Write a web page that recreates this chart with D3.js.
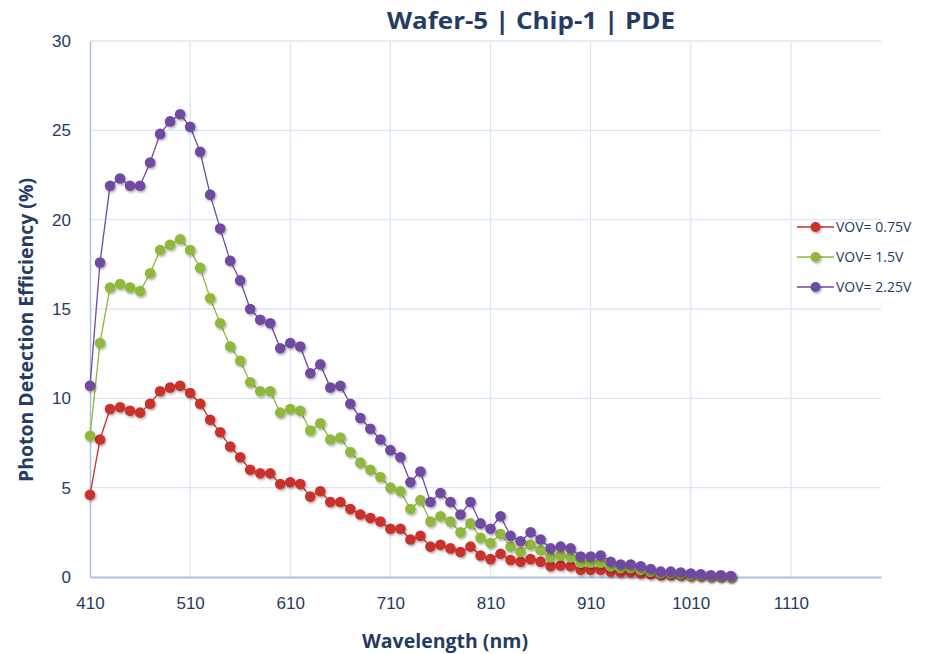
<!DOCTYPE html>
<html>
<head>
<meta charset="utf-8">
<script src="https://cdn.jsdelivr.net/npm/d3@7"></script>
<style>
  body { margin: 0; background: #fff; }
  svg { display: block; font-family: "Open Sans", "DejaVu Sans", sans-serif; }
</style>
</head>
<body>
<div class="chart"></div>
<script>
const wavelengths = d3.range(410, 1051, 10);

const vov075 = [4.6, 7.7, 9.4, 9.5, 9.3, 9.2, 9.7, 10.4, 10.6, 10.7, 10.3, 9.7, 8.8, 8.1, 7.3, 6.7, 6.0, 5.8, 5.8, 5.2,
  5.3, 5.2, 4.5, 4.8, 4.2, 4.2, 3.8, 3.5, 3.3, 3.1, 2.7, 2.7, 2.1, 2.3, 1.7, 1.8, 1.6, 1.4, 1.7, 1.2,
  1.0, 1.3, 0.95, 0.85, 1.0, 0.85, 0.6, 0.65, 0.6, 0.4, 0.4, 0.4, 0.3, 0.25, 0.25, 0.2, 0.15, 0.1, 0.1, 0.08,
  0.05, 0.05, 0.03, 0.02, 0.01];

const vov15 = [7.9, 13.1, 16.2, 16.4, 16.2, 16.0, 17.0, 18.3, 18.6, 18.9, 18.3, 17.3, 15.6, 14.2, 12.9, 12.1, 10.9, 10.4, 10.4, 9.2,
  9.4, 9.3, 8.2, 8.6, 7.7, 7.8, 7.0, 6.4, 6.0, 5.6, 5.0, 4.8, 3.8, 4.3, 3.1, 3.4, 3.1, 2.5, 3.0, 2.2,
  1.9, 2.4, 1.7, 1.4, 1.8, 1.5, 1.1, 1.2, 1.1, 0.8, 0.8, 0.8, 0.6, 0.5, 0.5, 0.4, 0.3, 0.2, 0.2, 0.15,
  0.1, 0.1, 0.05, 0.05, 0.02];

const vov225 = [10.7, 17.6, 21.9, 22.3, 21.9, 21.9, 23.2, 24.8, 25.5, 25.9, 25.2, 23.8, 21.4, 19.5, 17.7, 16.6, 15.0, 14.4, 14.2, 12.8,
  13.1, 12.9, 11.4, 11.9, 10.6, 10.7, 9.7, 8.9, 8.3, 7.7, 7.1, 6.7, 5.3, 5.9, 4.2, 4.7, 4.2, 3.5, 4.2, 3.0,
  2.7, 3.4, 2.3, 2.0, 2.5, 2.1, 1.6, 1.7, 1.6, 1.15, 1.15, 1.2, 0.85, 0.7, 0.7, 0.6, 0.45, 0.3, 0.3, 0.25,
  0.2, 0.15, 0.1, 0.1, 0.05];

const seriesNames = ["VOV= 0.75V", "VOV= 1.5V", "VOV= 2.25V"];
const seriesColors = ["#c9302c", "#8fb83e", "#7049a2"];
const xTicks = [410, 510, 610, 710, 810, 910, 1010, 1110];
const yTicks = [0, 5, 10, 15, 20, 25, 30];

const w = 935, h = 654;
const margin = { left: 90, right: 54, top: 41, bottom: 77 };
const textColor = "#243b63";

const series = [vov075, vov15, vov225].map((vals, i) => ({
  name: seriesNames[i],
  color: seriesColors[i],
  values: vals.map((v, j) => ({ x: wavelengths[j], y: v }))
}));

const x = d3.scaleLinear().domain([410, 1200]).range([margin.left, w - margin.right]);
const y = d3.scaleLinear().domain([0, 30]).range([h - margin.bottom, margin.top]);

const svg = d3.select(".chart").append("svg")
  .attr("width", w).attr("height", h).attr("viewBox", [0, 0, w, h]);

const defs = svg.append("defs");
const shadow = defs.append("filter").attr("id", "shadow")
  .attr("x", "-50%").attr("y", "-50%").attr("width", "200%").attr("height", "200%");
shadow.append("feDropShadow").attr("dx", 1.2).attr("dy", 1.5).attr("stdDeviation", 1.2)
  .attr("flood-color", "#000").attr("flood-opacity", 0.35);

// gridlines
svg.append("g").selectAll("line").data(yTicks.slice(1)).join("line")
  .attr("x1", margin.left).attr("x2", w - margin.right)
  .attr("y1", d => y(d)).attr("y2", d => y(d))
  .attr("stroke", "#dbe6f5").attr("stroke-width", 1.3);
svg.append("g").selectAll("line").data(xTicks.slice(1)).join("line")
  .attr("x1", d => x(d)).attr("x2", d => x(d))
  .attr("y1", margin.top).attr("y2", h - margin.bottom)
  .attr("stroke", "#dbe6f5").attr("stroke-width", 1.3);

// axes
const xAxis = svg.append("g")
  .attr("transform", `translate(0,${h - margin.bottom})`)
  .call(d3.axisBottom(x).tickValues(xTicks).tickSize(0).tickPadding(20).tickFormat(d3.format("d")));
xAxis.select(".domain").attr("stroke", "#a7c1e6").attr("stroke-width", 2);
xAxis.selectAll("text").attr("fill", textColor).attr("font-size", 17);

const yAxis = svg.append("g")
  .attr("transform", `translate(${margin.left},0)`)
  .call(d3.axisLeft(y).tickValues(yTicks).tickSize(0).tickPadding(19));
yAxis.select(".domain").attr("stroke", "#a7c1e6").attr("stroke-width", 1.5);
yAxis.selectAll("text").attr("fill", textColor).attr("font-size", 17);

// lines and markers
const line = d3.line().x(d => x(d.x)).y(d => y(d.y));
const g = svg.append("g").selectAll("g").data(series).join("g");
g.append("path")
  .attr("d", d => line(d.values))
  .attr("fill", "none").attr("stroke", d => d.color).attr("stroke-width", 1.3);
g.append("g").attr("filter", "url(#shadow)")
  .selectAll("circle").data(d => d.values.map(v => ({ ...v, color: d.color }))).join("circle")
  .attr("cx", d => x(d.x)).attr("cy", d => y(d.y)).attr("r", 5.3)
  .attr("fill", d => d.color);

// title and axis labels
svg.append("text").attr("x", 531).attr("y", 29).attr("text-anchor", "middle")
  .attr("font-size", 23).attr("font-weight", "bold").attr("fill", textColor)
  .attr("textLength", 288).attr("lengthAdjust", "spacingAndGlyphs")
  .text("Wafer-5 | Chip-1 | PDE");
svg.append("text").attr("x", 445).attr("y", 648).attr("text-anchor", "middle")
  .attr("font-size", 19).attr("font-weight", "bold").attr("fill", textColor)
  .attr("textLength", 166).attr("lengthAdjust", "spacingAndGlyphs")
  .text("Wavelength (nm)");
svg.append("text").attr("transform", "translate(33,330) rotate(-90)").attr("text-anchor", "middle")
  .attr("font-size", 19).attr("font-weight", "bold").attr("fill", textColor)
  .attr("textLength", 304).attr("lengthAdjust", "spacingAndGlyphs")
  .text("Photon Detection Efficiency (%)");

// legend
const legend = svg.append("g").selectAll("g").data(series).join("g")
  .attr("transform", (d, i) => `translate(797,${227 + i * 30})`);
legend.append("line").attr("x1", 0).attr("x2", 37)
  .attr("stroke", d => d.color).attr("stroke-width", 1.3);
legend.append("circle").attr("cx", 18.5).attr("r", 5).attr("fill", d => d.color)
  .attr("filter", "url(#shadow)");
legend.append("text").attr("x", 39).attr("dy", "0.35em")
  .attr("font-size", 14).attr("fill", textColor).text(d => d.name);
</script>
</body>
</html>
